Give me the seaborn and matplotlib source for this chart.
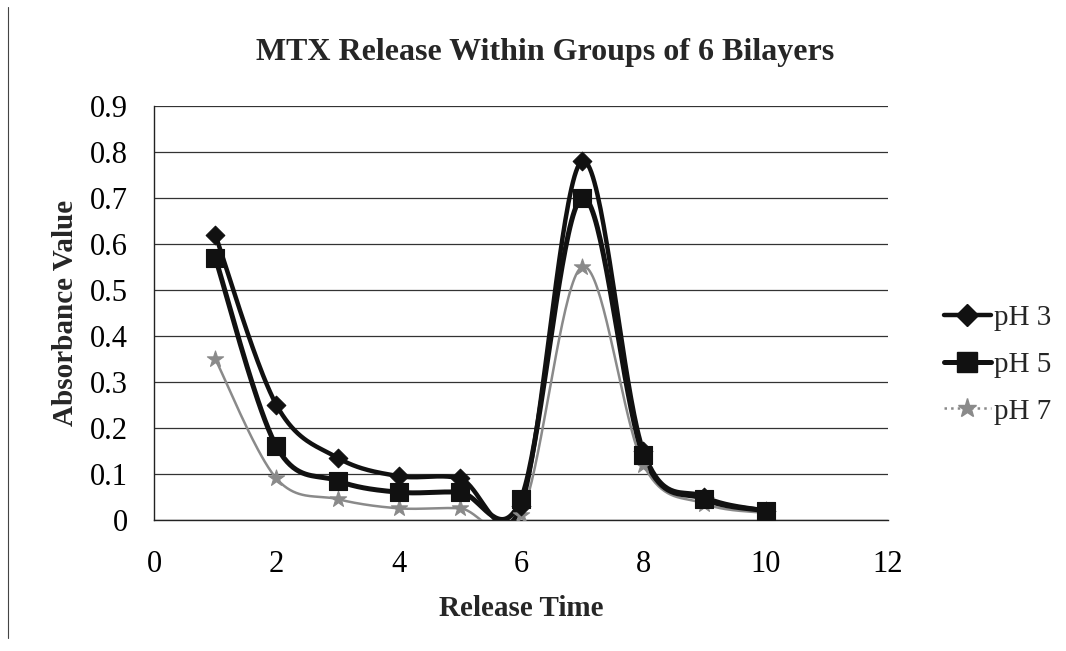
import numpy as np
import pandas as pd
import matplotlib
matplotlib.use("Agg")
import matplotlib.pyplot as plt
from matplotlib.lines import Line2D
import seaborn as sns

# ---- data ----
release_time = [1, 2, 3, 4, 5, 6, 7, 8, 9, 10]
ph3 = [0.62, 0.25, 0.135, 0.095, 0.09, 0.03, 0.78, 0.15, 0.05, 0.02]
ph5 = [0.57, 0.16, 0.085, 0.06, 0.06, 0.045, 0.70, 0.14, 0.045, 0.02]
ph7 = [0.35, 0.09, 0.045, 0.025, 0.025, 0.01, 0.55, 0.12, 0.035, 0.015]
series_names = ["pH 3", "pH 5", "pH 7"]
x_ticks = [0, 2, 4, 6, 8, 10, 12]
y_ticks = [0, 0.1, 0.2, 0.3, 0.4, 0.5, 0.6, 0.7, 0.8, 0.9]

sns.set_theme(style="white")
plt.rcParams["font.family"] = ["Liberation Serif", "DejaVu Serif"]


def smooth(xs, ys, n=40):
    """Excel-like smoothed line (cubic Bezier through points)."""
    xs = np.asarray(xs, float)
    ys = np.asarray(ys, float)
    P = np.column_stack([xs, ys])
    out = []
    m = len(P)
    for i in range(m - 1):
        p0 = P[max(i - 1, 0)]
        p1 = P[i]
        p2 = P[i + 1]
        p3 = P[min(i + 2, m - 1)]
        c1 = p1 + (p2 - p0) / 6.0
        c2 = p2 - (p3 - p1) / 6.0
        t = np.linspace(0, 1, n, endpoint=(i == m - 2))[:, None]
        b = ((1 - t) ** 3) * p1 + 3 * ((1 - t) ** 2) * t * c1 + 3 * (1 - t) * t ** 2 * c2 + t ** 3 * p2
        out.append(b)
    return np.vstack(out)


raw = {"pH 3": ph3, "pH 5": ph5, "pH 7": ph7}
frames = []
pts = []
for name in series_names:
    s = smooth(release_time, raw[name])
    frames.append(pd.DataFrame({"x": s[:, 0], "y": s[:, 1], "series": name}))
    pts.append(pd.DataFrame({"x": release_time, "y": raw[name], "series": name}))
curves = pd.concat(frames, ignore_index=True)
points = pd.concat(pts, ignore_index=True)

colors = {"pH 3": "#111111", "pH 5": "#111111", "pH 7": "#8a8a8a"}
widths = {"pH 3": 3.2, "pH 5": 3.6, "pH 7": 1.8}
markers = {"pH 3": "D", "pH 5": "s", "pH 7": "*"}
msizes = {"pH 3": 90, "pH 5": 150, "pH 7": 150}

fig = plt.figure(figsize=(10.66, 6.51), dpi=100)
ax = fig.add_axes([0.1445, 0.2015, 0.6885, 0.636])

for name in ["pH 7", "pH 5", "pH 3"]:
    sub = curves[curves["series"] == name]
    sns.lineplot(data=sub, x="x", y="y", sort=False, estimator=None,
                 color=colors[name], linewidth=widths[name], ax=ax, legend=False, zorder=3)
    psub = points[points["series"] == name]
    sns.scatterplot(data=psub, x="x", y="y", marker=markers[name], s=msizes[name],
                    color=colors[name], edgecolor=colors[name], linewidth=0.8,
                    ax=ax, legend=False, zorder=4)

ax.set_xlim(0, 12)
ax.set_ylim(0, 0.9)
ax.set_xticks(x_ticks)
ax.set_yticks(y_ticks)
ax.set_xticklabels([str(v) for v in x_ticks])
ax.set_yticklabels(["0"] + [f"{v:.1f}" for v in y_ticks[1:]])
ax.tick_params(axis="both", labelsize=22, length=0, colors="black")
ax.tick_params(axis="x", pad=22)
ax.tick_params(axis="y", pad=19)
ax.grid(axis="y", color="#333333", linewidth=0.9)
ax.grid(axis="x", visible=False)
ax.set_axisbelow(True)
for sp in ["top", "right"]:
    ax.spines[sp].set_visible(False)
for sp in ["left", "bottom"]:
    ax.spines[sp].set_color("#222222")
    ax.spines[sp].set_linewidth(1.0)

ax.set_xlabel("Release Time", fontsize=21, fontweight="bold", labelpad=11)
ax.set_ylabel("Absorbance Value", fontsize=21, fontweight="bold", labelpad=8)

fig.text(0.511, 0.92, "MTX Release Within Groups of 6 Bilayers", ha="center", va="center",
         fontsize=23, fontweight="bold")

handles = [
    Line2D([], [], color=colors[n], linewidth=widths[n], marker=markers[n],
           markersize=(11 if n == "pH 3" else 14), markeredgecolor=colors[n],
           linestyle=(":" if n == "pH 7" else "-"))
    for n in series_names
]
fig.legend(handles, series_names, loc="center left", bbox_to_anchor=(0.872, 0.44),
           frameon=False, fontsize=21, handlelength=1.6, handletextpad=0.1,
           labelspacing=0.7, borderpad=0)

# left frame border line as in the scanned figure
fig.add_artist(Line2D([0.0075, 0.0075], [0.02, 0.99], color="#444444", linewidth=0.8,
                      transform=fig.transFigure))

fig.savefig("out.png", dpi=100)
